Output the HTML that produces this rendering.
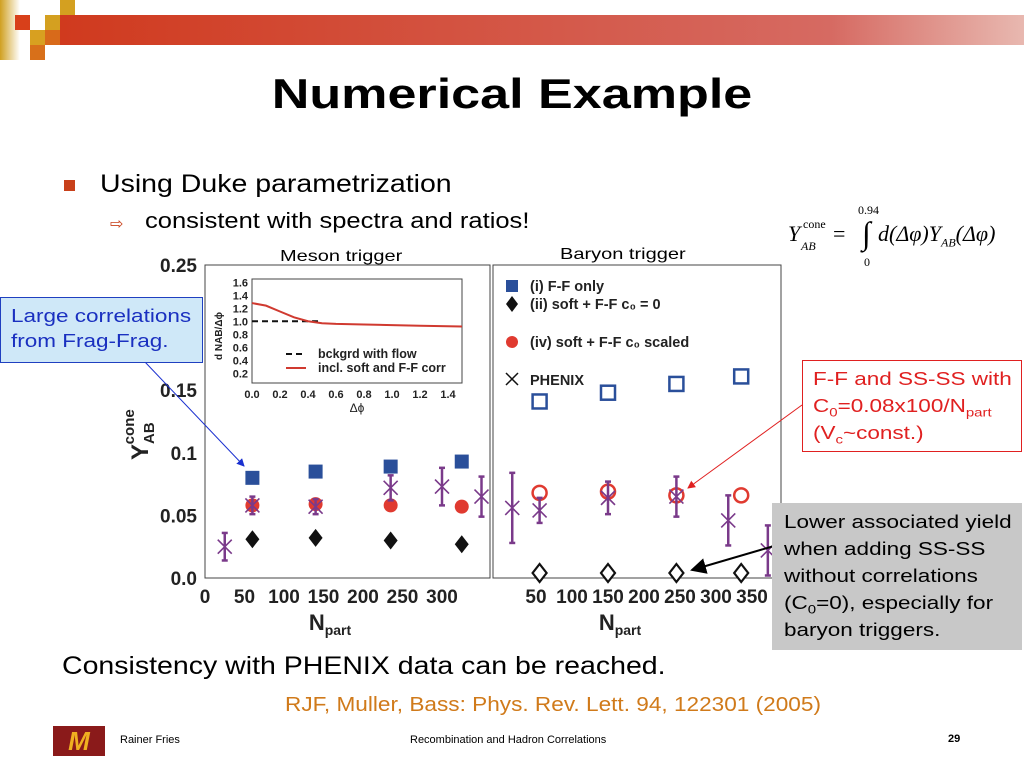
<!DOCTYPE html>
<html><head><meta charset="utf-8"><style>
body{margin:0;width:1024px;height:768px;overflow:hidden;background:#fff;font-family:"Liberation Sans",sans-serif;position:relative}
.a{position:absolute;white-space:nowrap}
.s{transform:scaleX(1.25);transform-origin:0 0}
.s2{transform:scaleX(1.14);transform-origin:0 0}
sub{line-height:0}
</style></head><body>
<div class="a" style="left:60px;top:15px;width:964px;height:30px;background:linear-gradient(90deg,#d03a1e,#d66a62 80%,#e8b8b0)"></div>
<div class="a" style="left:0;top:0;width:20px;height:60px;background:linear-gradient(90deg,#d0a020,#fff)"></div>
<div class="a" style="left:15px;top:15px;width:15px;height:15px;background:#d8401a"></div>
<div class="a" style="left:45px;top:15px;width:15px;height:15px;background:#d4a020"></div>
<div class="a" style="left:60px;top:0;width:15px;height:15px;background:#d4a020"></div>
<div class="a" style="left:30px;top:30px;width:15px;height:15px;background:#d8a020"></div>
<div class="a" style="left:45px;top:30px;width:15px;height:15px;background:#d86a1a"></div>
<div class="a" style="left:30px;top:45px;width:15px;height:15px;background:#d8701a"></div>
<div class="a" style="left:0;width:1024px;text-align:center;top:70px;font-size:42px;font-weight:bold;transform:scaleX(1.24)">Numerical Example</div>
<div class="a" style="left:64px;top:180px;width:11px;height:11px;background:#c8401a"></div>
<div class="a s2" style="left:100px;top:170px;font-size:25px">Using Duke parametrization</div>
<div class="a" style="left:110px;top:214px;font-size:16px;color:#c8401a">⇨</div>
<div class="a" style="left:145px;top:208px;font-size:22px;transform:scaleX(1.16);transform-origin:0 0">consistent with spectra and ratios!</div>
<div class="a" style="left:788px;top:203px;font-family:'Liberation Serif',serif;font-size:22px;font-style:italic;width:240px;height:70px">
<span style="position:absolute;left:0;top:18px">Y</span><span style="position:absolute;left:13px;top:36px;font-size:12px">AB</span><span style="position:absolute;left:15px;top:14px;font-size:12px;font-style:normal">cone</span>
<span style="position:absolute;left:45px;top:18px;font-style:normal">=</span>
<span style="position:absolute;left:70px;top:0;font-size:12px;font-style:normal">0.94</span>
<span style="position:absolute;left:74px;top:12px;font-size:32px;font-style:normal">∫</span>
<span style="position:absolute;left:76px;top:52px;font-size:12px;font-style:normal">0</span>
<span style="position:absolute;left:90px;top:18px">d(Δφ)Y<sub style="font-size:12px">AB</sub>(Δφ)</span></div>
<div class="a s" style="left:280px;top:248px;font-size:16px">Meson trigger</div>
<div class="a s" style="left:560px;top:246px;font-size:16px">Baryon trigger</div>
<svg class="a" style="left:0;top:0" width="1024" height="768" id="chart"></svg>
<div class="a" style="left:0;top:297px;width:203px;height:66px;background:#cfe8f8;border:1px solid #2040c0;color:#1a30c0;font-size:18px;line-height:25px;padding:6px 0 0 10px;box-sizing:border-box"><div class="s">Large correlations<br>from Frag-Frag.</div></div>
<div class="a" style="left:802px;top:360px;width:220px;height:92px;background:#fff;border:1px solid #e02020;color:#e02020;font-size:18px;line-height:27px;padding:5px 0 0 10px;box-sizing:border-box"><div class="s">F-F and SS-SS with<br>C<sub style="font-size:12px">0</sub>=0.08x100/N<sub style="font-size:12px">part</sub><br>(V<sub style="font-size:12px">c</sub>~const.)</div></div>
<div class="a" style="left:772px;top:503px;width:250px;height:147px;background:#c8c8c8;font-size:18px;line-height:27px;padding:6px 0 0 12px;box-sizing:border-box"><div class="s">Lower associated yield<br>when adding SS-SS<br>without correlations<br>(C<sub style="font-size:12px">0</sub>=0), especially for<br>baryon triggers.</div></div>
<div class="a s2" style="left:62px;top:652px;font-size:25px">Consistency with PHENIX data can be reached.</div>
<div class="a" style="left:285px;top:694px;font-size:20px;color:#d07a1a;transform:scaleX(1.13);transform-origin:0 0">RJF, Muller, Bass: Phys. Rev. Lett. 94, 122301 (2005)</div>
<div class="a" style="left:53px;top:726px;width:52px;height:30px;background:#8a1a1a;color:#f0b020;font-weight:bold;font-size:26px;text-align:center;line-height:30px;font-style:italic">M</div>
<div class="a" style="left:120px;top:734px;font-size:11px">Rainer Fries</div>
<div class="a" style="left:410px;top:734px;font-size:11px">Recombination and Hadron Correlations</div>
<div class="a" style="left:948px;top:733px;font-size:11px;font-weight:bold">29</div>
<script>
const mesonN=[60,140,235,325];
const mesonFF=[0.080,0.085,0.089,0.093];
const mesonSoft=[0.058,0.059,0.058,0.057];
const mesonC0=[0.031,0.032,0.030,0.027];
const mesonPhxN=[25,60,140,235,300,350];
const mesonPhx=[0.025,0.058,0.057,0.072,0.073,0.065];
const mesonPhxErr=[0.011,0.007,0.006,0.010,0.015,0.016];
const baryonN=[55,150,245,335];
const baryonFF=[0.141,0.148,0.155,0.161];
const baryonSoft=[0.068,0.069,0.066,0.066];
const baryonC0=[0.004,0.004,0.004,0.004];
const baryonPhxN=[17,55,150,245,317,372];
const baryonPhx=[0.056,0.054,0.064,0.065,0.046,0.022];
const baryonPhxErr=[0.028,0.010,0.013,0.016,0.020,0.020];
const yTicks=[0,0.05,0.1,0.15,0.25];
const yTickLabels=["0.0","0.05","0.1","0.15","0.25"];
const xTicksL=[0,50,100,150,200,250,300];
const xTicksR=[50,100,150,200,250,300,350];
const insetPhi=[0,0.1,0.2,0.3,0.4,0.5,0.6,0.8,1.0,1.2,1.5];
const insetCurve=[1.28,1.24,1.15,1.06,1.0,0.97,0.96,0.95,0.94,0.93,0.92];
const S=document.getElementById('chart');const NS='http://www.w3.org/2000/svg';
function el(t,a,p){const e=document.createElementNS(NS,t);for(const k in a)e.setAttribute(k,a[k]);(p||S).appendChild(e);return e;}
const Y=v=>578-v*1252;
const XL=n=>205+n*0.79, XR=n=>500+n*0.72;
let f=el('rect',{x:205,y:265,width:285,height:313,fill:'none',stroke:'#444','stroke-width':1});

f=el('rect',{x:493,y:265,width:288,height:313,fill:'none',stroke:'#444','stroke-width':1});

yTicks.forEach((v,i)=>{let t=el('text',{x:197,y:Y(v)+7,'text-anchor':'end','font-size':19,'font-weight':'bold',fill:'#222'});t.textContent=yTickLabels[i];
});
let yt=el('text',{x:0,y:0,'font-size':24,'font-weight':'bold',fill:'#222',transform:'translate(148,460) rotate(-90)'});yt.innerHTML='Y<tspan font-size="15" dy="6">AB</tspan><tspan font-size="15" dy="-20" dx="-22">cone</tspan>';

xTicksL.forEach(n=>{let t=el('text',{x:XL(n),y:603,'text-anchor':'middle','font-size':19,'font-weight':'bold',fill:'#222'});t.textContent=n;
});
xTicksR.forEach(n=>{let t=el('text',{x:XR(n),y:603,'text-anchor':'middle','font-size':19,'font-weight':'bold',fill:'#222'});t.textContent=n;
});
[[330],[620]].forEach(([x])=>{let t=el('text',{x:x,y:630,'text-anchor':'middle','font-size':22,'font-weight':'bold',fill:'#222'});t.innerHTML='N<tspan font-size="14" dy="5">part</tspan>';
});
function sq(x,y,filled){let r=el('rect',{x:x-7,y:y-7,width:14,height:14,fill:filled?'#2a4f9a':'none',stroke:'#2a4f9a','stroke-width':filled?0:2.5});}
function dia(x,y,filled){let r=el('path',{d:`M${x} ${y-9}L${x+7} ${y}L${x} ${y+9}L${x-7} ${y}Z`,fill:filled?'#111':'#fff',stroke:'#111','stroke-width':filled?0:2.2});}
function circ(x,y,filled){let r=el('circle',{cx:x,cy:y,r:7,fill:filled?'#e03a30':'none',stroke:'#e03a30','stroke-width':filled?0:2.5});}
function phx(x,v,e){const g=el('g',{stroke:'#7a3a8a','stroke-width':2.5,fill:'none'});
const y=Y(v),y1=Y(v+e),y2=Y(v-e);el('line',{x1:x,y1:y1,x2:x,y2:y2},g);el('line',{x1:x-3,y1:y1,x2:x+3,y2:y1},g);el('line',{x1:x-3,y1:y2,x2:x+3,y2:y2},g);
el('path',{d:`M${x-7} ${y-7}L${x+7} ${y+7}M${x-7} ${y+7}L${x+7} ${y-7}`,'stroke-width':1.6},g);}
mesonN.forEach((n,i)=>{sq(XL(n),Y(mesonFF[i]),1);circ(XL(n),Y(mesonSoft[i]),1);dia(XL(n),Y(mesonC0[i]),1);});
mesonPhxN.forEach((n,i)=>phx(XL(n),mesonPhx[i],mesonPhxErr[i]));
baryonN.forEach((n,i)=>{sq(XR(n),Y(baryonFF[i]),0);circ(XR(n),Y(baryonSoft[i]),0);dia(XR(n),Y(baryonC0[i]),0);});
baryonPhxN.forEach((n,i)=>phx(XR(n),baryonPhx[i],baryonPhxErr[i]));
const lg=el('g',{});
el('rect',{x:506,y:280,width:12,height:12,fill:'#2a4f9a'},lg);
el('path',{d:'M512 296L518 304L512 312L506 304Z',fill:'#111'},lg);
el('circle',{cx:512,cy:342,r:6,fill:'#e03a30'},lg);
el('path',{d:'M506 373L518 385M506 385L518 373',stroke:'#111','stroke-width':1.5},lg);
[['(i) F-F only',291],['(ii) soft + F-F c₀ = 0',309],['(iv) soft + F-F c₀ scaled',347],['PHENIX',385]].forEach(([s,y])=>{let t=el('text',{x:530,y:y,'font-size':14.5,'font-weight':'bold',fill:'#222'},lg);t.textContent=s;});
const ix0=252,ix1=462,iy0=279,iy1=383;const IX=p=>ix0+p*140,IY=v=>iy1-(v-0.05)*(iy1-iy0)/1.6;
const ig=el('g',{});
el('rect',{x:ix0,y:iy0,width:ix1-ix0,height:iy1-iy0,fill:'#fff',stroke:'#444'},ig);
[0.2,0.4,0.6,0.8,1.0,1.2,1.4,1.6].forEach(v=>{let t=el('text',{x:248,y:IY(v)+4,'text-anchor':'end','font-size':11,'font-weight':'bold',fill:'#222'},ig);t.textContent=v.toFixed(1);});
[0,0.2,0.4,0.6,0.8,1.0,1.2,1.4].forEach(v=>{let t=el('text',{x:IX(v),y:398,'text-anchor':'middle','font-size':11,'font-weight':'bold',fill:'#222'},ig);t.textContent=v.toFixed(1);});
let tx=el('text',{x:357,y:412,'text-anchor':'middle','font-size':12,fill:'#222'},ig);tx.textContent='Δϕ';
tx=el('text',{x:0,y:0,'font-size':10,'font-weight':'bold',fill:'#222',transform:'translate(222,360) rotate(-90)'},ig);tx.textContent='d NAB/Δϕ';
el('line',{x1:ix0,y1:IY(1),x2:IX(0.5),y2:IY(1),stroke:'#111','stroke-width':2,'stroke-dasharray':'6,4'},ig);
el('path',{d:insetPhi.map((p,i)=>(i?'L':'M')+IX(p)+' '+IY(insetCurve[i])).join(''),fill:'none',stroke:'#d03a30','stroke-width':2},ig);
el('line',{x1:286,y1:354,x2:306,y2:354,stroke:'#111','stroke-width':2,'stroke-dasharray':'6,4'},ig);
el('line',{x1:286,y1:368,x2:306,y2:368,stroke:'#d03a30','stroke-width':2},ig);
tx=el('text',{x:318,y:358,'font-size':12.5,'font-weight':'bold',fill:'#222'},ig);tx.textContent='bckgrd with flow';
tx=el('text',{x:318,y:372,'font-size':12.5,'font-weight':'bold',fill:'#222'},ig);tx.textContent='incl. soft and F-F corr';
el('defs',{}).innerHTML='<marker id="mb" markerWidth="8" markerHeight="8" refX="7" refY="4" orient="auto"><path d="M0 0L8 4L0 8Z" fill="#1a30d0"/></marker><marker id="mr" markerWidth="8" markerHeight="8" refX="7" refY="4" orient="auto"><path d="M0 0L8 4L0 8Z" fill="#e02020"/></marker><marker id="mk" markerWidth="8" markerHeight="8" refX="7" refY="4" orient="auto"><path d="M0 0L8 4L0 8Z" fill="#000"/></marker>';
let a=el('line',{x1:145,y1:362,x2:244,y2:466,stroke:'#1a30d0','stroke-width':1,'marker-end':'url(#mb)'});
a=el('line',{x1:802,y1:405,x2:688,y2:488,stroke:'#e02020','stroke-width':1,'marker-end':'url(#mr)'});
a=el('line',{x1:774,y1:546,x2:692,y2:570,stroke:'#000','stroke-width':2,'marker-end':'url(#mk)'});
</script>
</body></html>
